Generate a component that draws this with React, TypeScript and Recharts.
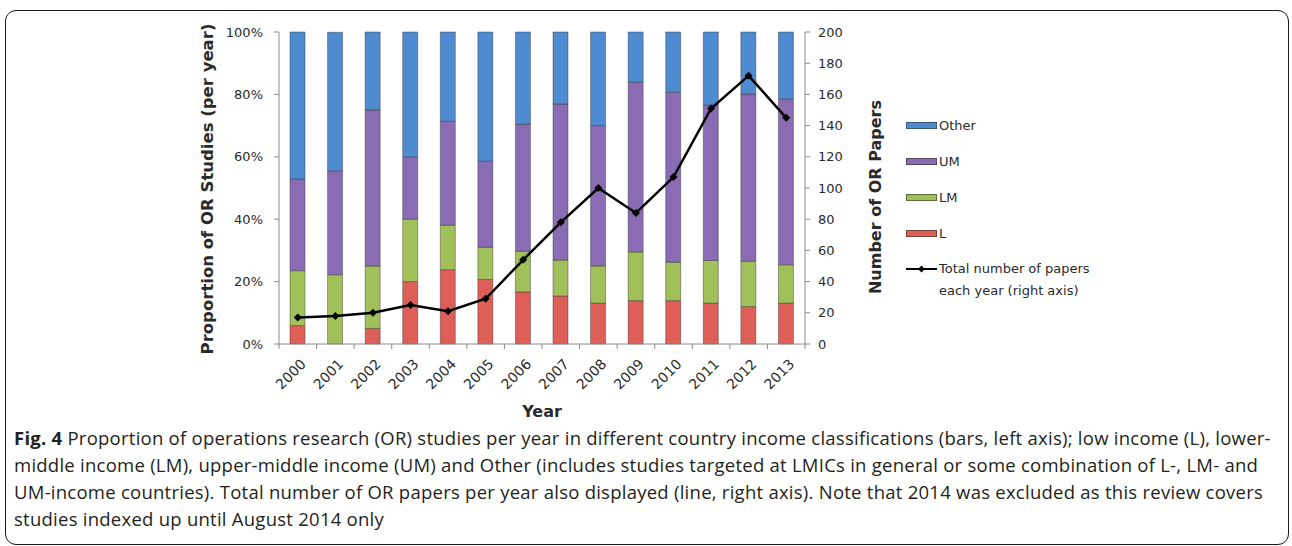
import { ComposedChart, Bar, Line, XAxis, YAxis, Legend } from 'recharts';

// reading of the figure: share of OR studies by income group (% of year), and paper counts
const years = ['2000', '2001', '2002', '2003', '2004', '2005', '2006', '2007', '2008', '2009', '2010', '2011', '2012', '2013'];
const lowPct = [5.9, 0, 5, 20, 23.8, 20.7, 16.7, 15.4, 13.1, 13.9, 13.9, 13.1, 12.0, 13.1];
const lowerMidPct = [17.6, 22.2, 20, 20, 14.3, 10.3, 13.0, 11.5, 11.9, 15.6, 12.3, 13.7, 14.5, 12.3];
const upperMidPct = [29.4, 33.3, 50, 20, 33.3, 27.6, 40.7, 50, 45, 54.4, 54.5, 49.8, 53.6, 53.2];
const otherPct = [47.1, 44.4, 25, 40, 28.6, 41.4, 29.6, 23.1, 30, 16.1, 19.3, 23.4, 19.9, 21.4];
const totalPapers = [17, 18, 20, 25, 21, 29, 54, 78, 100, 84, 107, 151, 172, 145];

const pctTicks = [0, 20, 40, 60, 80, 100];
const paperTicks = [0, 20, 40, 60, 80, 100, 120, 140, 160, 180, 200];

const COLORS = {
  other: '#4f8bd0',
  um: '#8a6cb4',
  lm: '#a2c05a',
  l: '#de5f58',
};

const chartData = years.map((year, i) => ({
  year,
  l: lowPct[i],
  lm: lowerMidPct[i],
  um: upperMidPct[i],
  other: otherPct[i],
  total: totalPapers[i],
}));

const FONT = '"DejaVu Sans", sans-serif';
const AXIS = '#8c8c8c';
const INK = '#2a2a2a';

const CHART_W = 1292;
const MARGIN = { top: 32, right: 407, bottom: 11, left: 199 };
const Y_AXIS_W = 80;
const PLOT_W = CHART_W - MARGIN.left - MARGIN.right - 2 * Y_AXIS_W;
const BAND = PLOT_W / years.length;

const legendBars = [
  { label: 'Other', color: COLORS.other },
  { label: 'UM', color: COLORS.um },
  { label: 'LM', color: COLORS.lm },
  { label: 'L', color: COLORS.l },
];

function ChartLegend() {
  return (
    <div style={{ fontFamily: FONT, fontSize: 13, color: INK }}>
      {legendBars.map((item) => (
        <div key={item.label} style={{ display: 'flex', alignItems: 'center', height: 36 }}>
          <span
            style={{
              width: 31,
              height: 7,
              background: item.color,
              border: '1px solid rgba(40,40,40,0.55)',
              boxSizing: 'border-box',
              marginRight: 2,
            }}
          />
          <span>{item.label}</span>
        </div>
      ))}
      <div style={{ display: 'flex', alignItems: 'flex-start', marginTop: 7 }}>
        <svg width={32} height={22} style={{ marginRight: 1 }}>
          <line x1={0} y1={11} x2={31} y2={11} stroke="#000" strokeWidth={2} />
          <polygon points="15.5,7.5 19,11 15.5,14.5 12,11" fill="#000" />
        </svg>
        <span style={{ lineHeight: '22px' }}>
          Total number of papers
          <br />
          each year (right axis)
        </span>
      </div>
    </div>
  );
}

// Excel-style: tick marks sit on the category boundaries, label rotated under the bar
function YearTick({ x, y, payload, index }: any) {
  const left = x - BAND / 2;
  const right = x + BAND / 2;
  return (
    <g>
      <line x1={left} y1={y} x2={left} y2={y + 5} stroke={AXIS} />
      {index === years.length - 1 && <line x1={right} y1={y} x2={right} y2={y + 5} stroke={AXIS} />}
      <g transform={`translate(${x + 9},${y + 21})`}>
        <text textAnchor="end" transform="rotate(-45)" fontSize={14} fontFamily={FONT} fill={INK}>
          {payload.value}
        </text>
      </g>
    </g>
  );
}

function Diamond({ cx, cy }: any) {
  if (cx == null || cy == null) return null;
  return <polygon points={`${cx},${cy - 4} ${cx + 4},${cy} ${cx},${cy + 4} ${cx - 4},${cy}`} fill="#000" />;
}

export default function App() {
  return (
    <div style={{ position: 'absolute', left: 0, top: 0, width: 1292, height: 546, background: '#fff' }}>
      <div
        style={{
          position: 'absolute',
          left: 5,
          top: 10,
          width: 1284,
          height: 535,
          border: '1.5px solid #1a1a1a',
          borderRadius: 11,
          boxSizing: 'border-box',
        }}
      />
      <div style={{ position: 'absolute', left: 0, top: 0 }}>
        <ComposedChart width={CHART_W} height={430} data={chartData} margin={MARGIN} barSize={15}>
          <XAxis
            dataKey="year"
            tickLine={false}
            tickSize={0}
            tickMargin={0}
            stroke={AXIS}
            height={75}
            interval={0}
            tick={<YearTick />}
            label={({ viewBox }: any) => (
              <text
                x={viewBox.x + viewBox.width / 2}
                y={viewBox.y + viewBox.height - 2}
                textAnchor="middle"
                fontSize={16}
                fontWeight="bold"
                fontFamily={FONT}
                fill={INK}
              >
                Year
              </text>
            )}
          />
          <YAxis
            yAxisId="left"
            domain={[0, 100]}
            ticks={pctTicks}
            tickFormatter={(v) => `${v}%`}
            width={Y_AXIS_W}
            stroke={AXIS}
            tickSize={5}
            tickMargin={11}
            tick={{ fill: INK, fontSize: 13, fontFamily: FONT }}
            label={({ viewBox }: any) => {
              const x = viewBox.x + 14;
              const y = viewBox.y + viewBox.height / 2 + 1;
              return (
                <text
                  x={x}
                  y={y}
                  transform={`rotate(-90, ${x}, ${y})`}
                  textAnchor="middle"
                  fontSize={16.5}
                  fontWeight="bold"
                  fontFamily={FONT}
                  fill={INK}
                >
                  Proportion of OR Studies (per year)
                </text>
              );
            }}
          />
          <YAxis
            yAxisId="right"
            orientation="right"
            domain={[0, 200]}
            ticks={paperTicks}
            width={Y_AXIS_W}
            stroke={AXIS}
            tickSize={5}
            tickMargin={8}
            tick={{ fill: INK, fontSize: 13, fontFamily: FONT, textAnchor: 'start' }}
            label={({ viewBox }: any) => {
              const x = viewBox.x + 76;
              const y = viewBox.y + viewBox.height / 2 + 9;
              return (
                <text
                  x={x}
                  y={y}
                  transform={`rotate(-90, ${x}, ${y})`}
                  textAnchor="middle"
                  fontSize={16}
                  fontWeight="bold"
                  fontFamily={FONT}
                  fill={INK}
                >
                  Number of OR Papers
                </text>
              );
            }}
          />
          <Legend
            layout="vertical"
            align="center"
            verticalAlign="middle"
            content={<ChartLegend />}
            wrapperStyle={{ left: 906, top: 107, width: 240 }}
          />
          <Bar yAxisId="left" dataKey="l" name="L" stackId="share" fill={COLORS.l} stroke="rgba(50,50,50,0.55)" strokeWidth={0.8} isAnimationActive={false} />
          <Bar yAxisId="left" dataKey="lm" name="LM" stackId="share" fill={COLORS.lm} stroke="rgba(50,50,50,0.55)" strokeWidth={0.8} isAnimationActive={false} />
          <Bar yAxisId="left" dataKey="um" name="UM" stackId="share" fill={COLORS.um} stroke="rgba(50,50,50,0.55)" strokeWidth={0.8} isAnimationActive={false} />
          <Bar yAxisId="left" dataKey="other" name="Other" stackId="share" fill={COLORS.other} stroke="rgba(50,50,50,0.55)" strokeWidth={0.8} isAnimationActive={false} />
          <Line
            yAxisId="right"
            dataKey="total"
            name="Total number of papers each year (right axis)"
            stroke="#000"
            strokeWidth={2.5}
            dot={<Diamond />}
            activeDot={false}
            isAnimationActive={false}
          />
        </ComposedChart>
      </div>
      <div
        style={{
          position: 'absolute',
          left: 14,
          top: 424,
          fontFamily: '"Open Sans", sans-serif',
          fontSize: 18.5,
          letterSpacing: 0.25,
          lineHeight: '27px',
          color: '#231f20',
          whiteSpace: 'nowrap',
        }}
      >
        <div>
          <b>Fig. 4</b> Proportion of operations research (OR) studies per year in different country income classifications (bars, left axis); low income (L), lower-
        </div>
        <div>
          middle income (LM), upper-middle income (UM) and Other (includes studies targeted at LMICs in general or some combination of L-, LM- and
        </div>
        <div>
          UM-income countries). Total number of OR papers per year also displayed (line, right axis). Note that 2014 was excluded as this review covers
        </div>
        <div>studies indexed up until August 2014 only</div>
      </div>
    </div>
  );
}
